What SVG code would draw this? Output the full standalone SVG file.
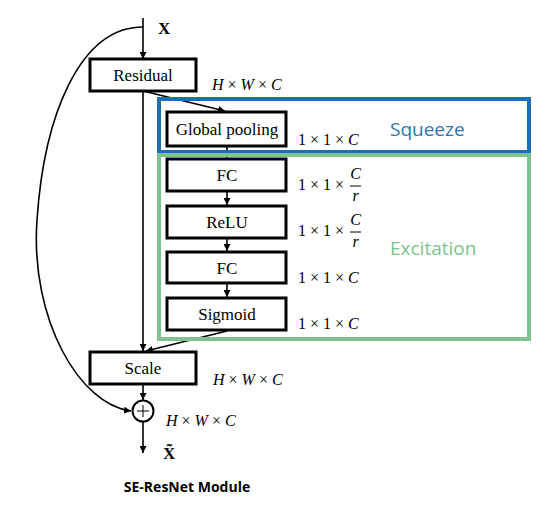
<svg xmlns="http://www.w3.org/2000/svg" width="560" height="526" viewBox="0 0 560 526">
<style>
.box{fill:#fff;stroke:#000;stroke-width:3}
.lbl{font-family:"Liberation Serif",serif;font-size:17px;fill:#000;text-anchor:middle}
.dim{font-family:"Liberation Serif",serif;font-size:16px;fill:#000}
.it{font-style:italic}
.con{fill:none;stroke:#000;stroke-width:1.6}
.big{font-family:"Liberation Serif",serif;font-weight:bold;font-size:17px}
</style>
<defs>
<marker id="ah" viewBox="0 0 10 10" refX="10" refY="5" markerWidth="7" markerHeight="7" markerUnits="userSpaceOnUse" orient="auto">
<path d="M0,0 L10,5 L0,10 z" fill="#000"/>
</marker>
</defs>
<rect width="560" height="526" fill="#fff"/>
<g id="connectors">
<line class="con" x1="143" y1="18" x2="143" y2="59" marker-end="url(#ah)"/>
<path class="con" d="M143,27 C80,27 44,115 37,220 C30,320 80,405 131,411" marker-end="url(#ah)"/>
<line class="con" x1="143" y1="91" x2="143" y2="351" marker-end="url(#ah)"/>
<line class="con" x1="143" y1="91" x2="225" y2="111" marker-end="url(#ah)"/>
<line class="con" x1="227" y1="146" x2="227" y2="159"/>
<line class="con" x1="227" y1="191" x2="227" y2="205" marker-end="url(#ah)"/>
<line class="con" x1="227" y1="238" x2="227" y2="251" marker-end="url(#ah)"/>
<line class="con" x1="227" y1="283" x2="227" y2="297" marker-end="url(#ah)"/>
<line class="con" x1="227" y1="331" x2="146" y2="351" marker-end="url(#ah)"/>
<line class="con" x1="143" y1="384" x2="143" y2="400" marker-end="url(#ah)"/>
<line class="con" x1="143" y1="422" x2="143" y2="453" marker-end="url(#ah)"/>
</g>
<g id="squeeze">
<rect x="159" y="99" width="370" height="53" fill="none" stroke="#1a6fb8" stroke-width="4"/>
<text x="390" y="136" font-family="'Open Sans',sans-serif" font-size="19" fill="#2e75b6">Squeeze</text>
</g>
<g id="excitation">
<rect x="159" y="155" width="370" height="184" fill="none" stroke="#80c190" stroke-width="4"/>
<text x="390" y="255" font-family="'Open Sans',sans-serif" font-size="19" fill="#7cc48d">Excitation</text>
</g>
<g id="x-in"><text class="big" x="158" y="34">X</text></g>
<g id="residual">
<rect class="box" x="90" y="59" width="106" height="32"/>
<text class="lbl" x="143" y="81">Residual</text>
</g>
<g id="dim1"><text class="dim" x="212" y="90"><tspan class="it">H</tspan> × <tspan class="it">W</tspan> × <tspan class="it">C</tspan></text></g>
<g id="global-pooling">
<rect class="box" x="167" y="112" width="119" height="34"/>
<text class="lbl" x="227" y="135">Global pooling</text>
</g>
<g id="dim2"><text class="dim" x="298" y="145">1 × 1 × <tspan class="it">C</tspan></text></g>
<g id="fc1">
<rect class="box" x="167" y="159" width="119" height="32"/>
<text class="lbl" x="227" y="181">FC</text>
</g>
<g id="dim3">
<text class="dim" x="298" y="190">1 × 1 ×</text>
<text class="dim it" x="355.5" y="179" text-anchor="middle">C</text>
<line x1="350" y1="186" x2="361" y2="186" stroke="#000" stroke-width="1"/>
<text class="dim it" x="355.5" y="201" text-anchor="middle">r</text>
</g>
<g id="relu">
<rect class="box" x="167" y="206" width="119" height="32"/>
<text class="lbl" x="227" y="228">ReLU</text>
</g>
<g id="dim4">
<text class="dim" x="298" y="236">1 × 1 ×</text>
<text class="dim it" x="355.5" y="225" text-anchor="middle">C</text>
<line x1="350" y1="232" x2="361" y2="232" stroke="#000" stroke-width="1"/>
<text class="dim it" x="355.5" y="247" text-anchor="middle">r</text>
</g>
<g id="fc2">
<rect class="box" x="167" y="252" width="119" height="31"/>
<text class="lbl" x="227" y="274">FC</text>
</g>
<g id="dim5"><text class="dim" x="298" y="283">1 × 1 × <tspan class="it">C</tspan></text></g>
<g id="sigmoid">
<rect class="box" x="167" y="298" width="119" height="32"/>
<text class="lbl" x="227" y="320">Sigmoid</text>
</g>
<g id="dim6"><text class="dim" x="298" y="329">1 × 1 × <tspan class="it">C</tspan></text></g>
<g id="scale">
<rect class="box" x="90" y="352" width="106" height="32"/>
<text class="lbl" x="143" y="374">Scale</text>
</g>
<g id="dim7"><text class="dim" x="213" y="385"><tspan class="it">H</tspan> × <tspan class="it">W</tspan> × <tspan class="it">C</tspan></text></g>
<g id="add">
<circle cx="143" cy="411" r="10.5" fill="#fff" stroke="#000" stroke-width="2"/>
<line x1="137" y1="411" x2="149" y2="411" stroke="#000" stroke-width="1"/>
<line x1="143" y1="405" x2="143" y2="417" stroke="#000" stroke-width="1"/>
</g>
<g id="dim8"><text class="dim" x="166" y="426"><tspan class="it">H</tspan> × <tspan class="it">W</tspan> × <tspan class="it">C</tspan></text></g>
<g id="x-out"><text class="big" x="163" y="459">X̃</text></g>
<text x="187" y="492" font-family="'Open Sans',sans-serif" font-weight="bold" font-size="14" text-anchor="middle" fill="#000">SE-ResNet Module</text>
</svg>
